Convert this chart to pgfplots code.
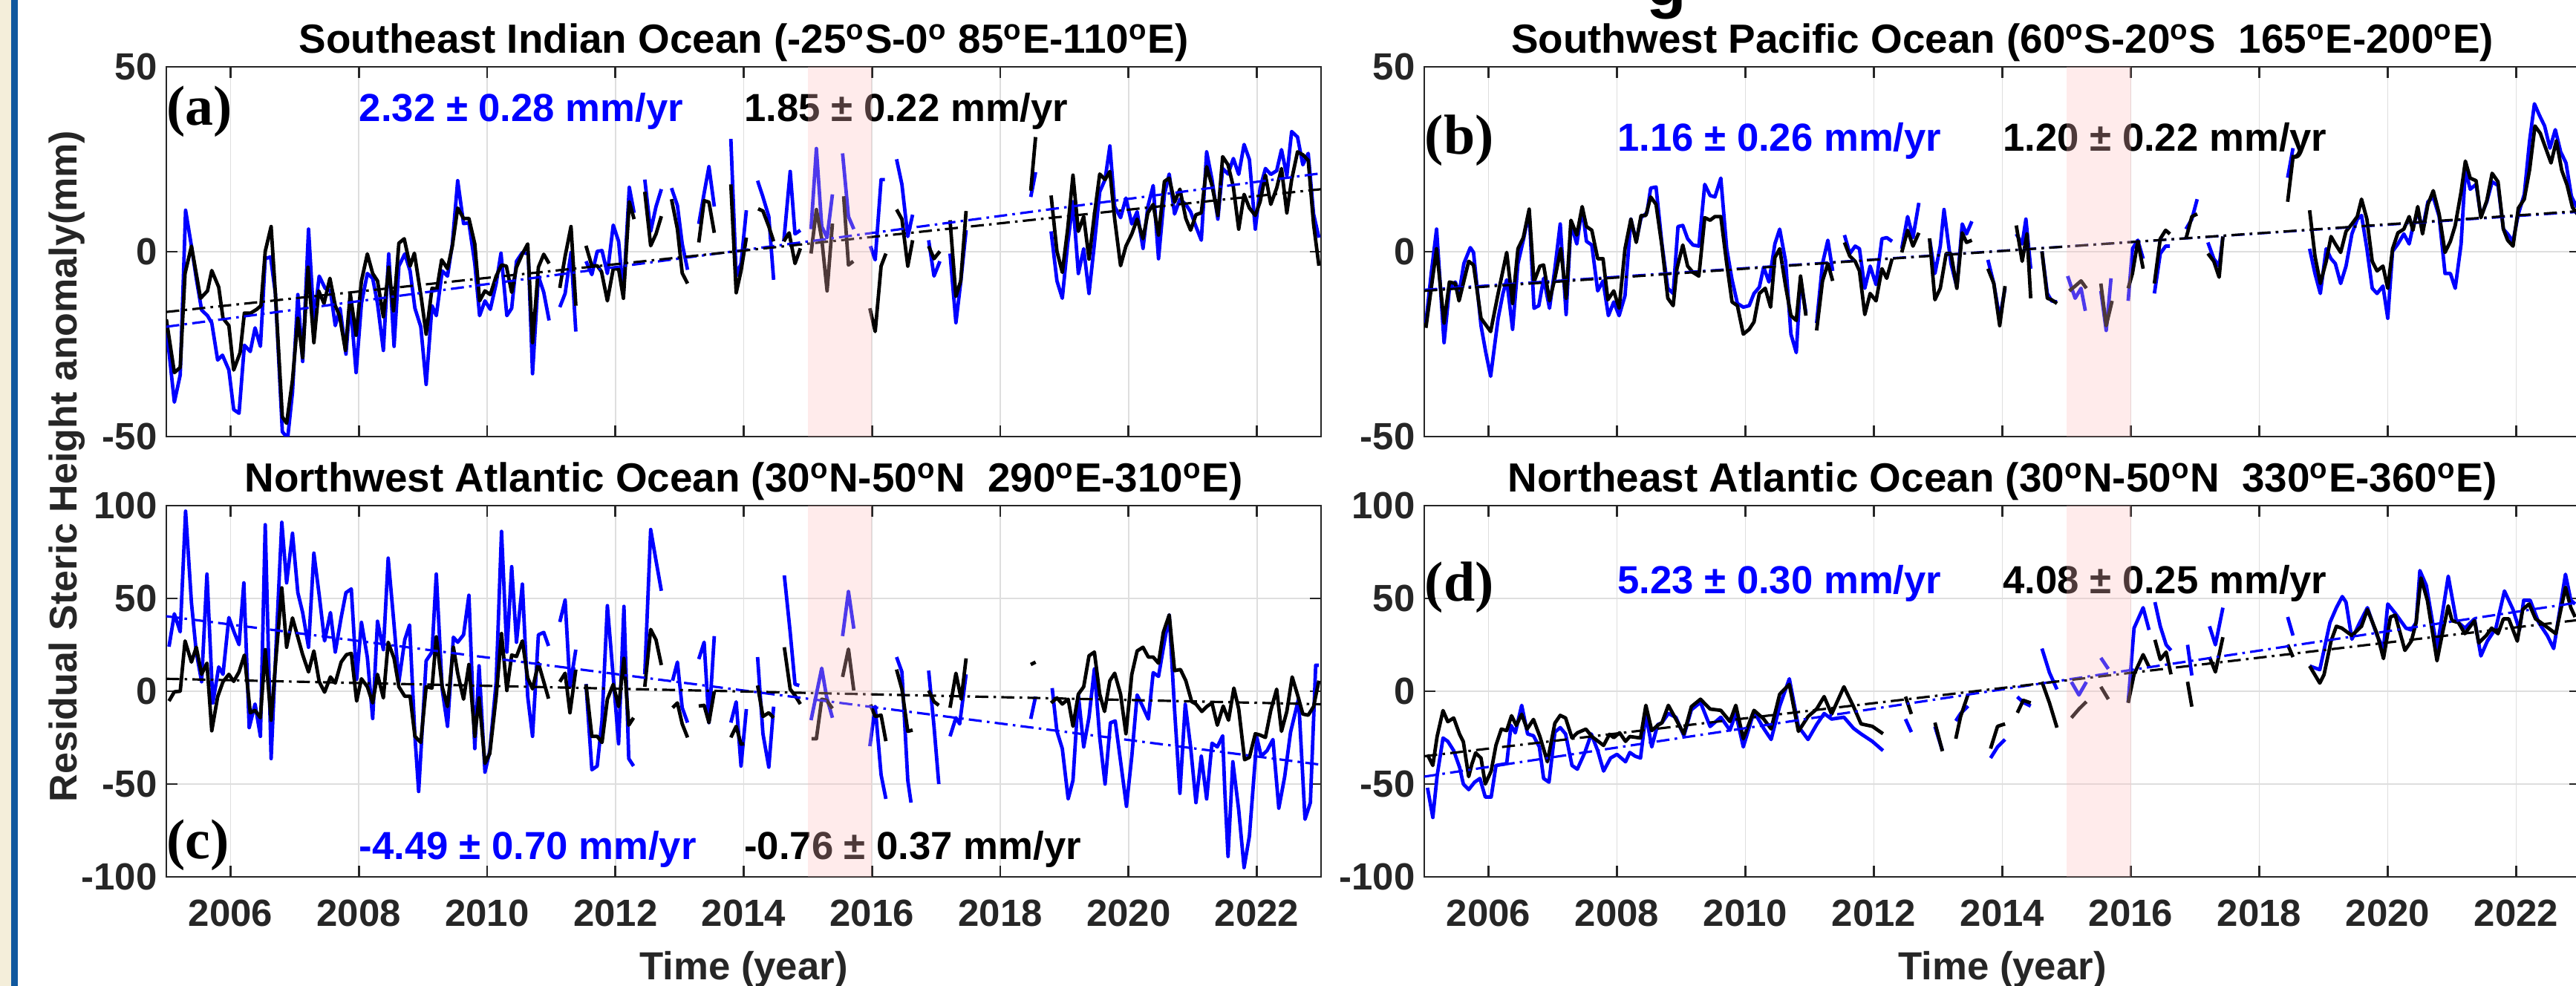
\documentclass[border=0pt]{standalone}
\usepackage{fontspec}
\setmainfont{Liberation Sans}
\newfontfamily\serifbold{Liberation Serif}
\usepackage{pgfplots}
\pgfplotsset{compat=1.18}
\definecolor{axgray}{RGB}{38,38,38}
\definecolor{gridgray}{RGB}{222,222,222}
\definecolor{mblue}{RGB}{0,0,255}
\definecolor{beige}{RGB}{244,238,218}
\definecolor{barblue}{RGB}{16,88,158}
\definecolor{bandpink}{RGB}{255,190,190}
\newcommand{\tf}{\fontsize{14.5}{16}\selectfont\bfseries}
\newcommand{\titlef}{\fontsize{15.6}{18}\selectfont\bfseries}
\newcommand{\annf}{\fontsize{15}{17}\selectfont\bfseries}
\newcommand{\labf}{\fontsize{21.6}{24}\selectfont\serifbold\bfseries}
\pgfplotsset{
 panel/.style={
  scale only axis, width=15.55cm,
  xmin=2005, xmax=2023,
  xtick={2006,2008,...,2022},
  xticklabels={2006,2008,2010,2012,2014,2016,2018,2020,2022},
  grid=major,
  major grid style={draw=gridgray, line width=0.5pt},
  tick align=inside,
  major tick length=0.15cm,
  axis line style={draw=axgray, line width=0.8pt},
  every tick/.style={draw=axgray, line width=0.8pt},
  tick label style={font=\tf, text=axgray},
  xticklabel style={yshift=-0.19cm},
  unbounded coords=jump,
  every axis title shift=0pt,
  title style={at={(0.5,1)}, anchor=base, yshift=0.18cm, font=\titlef, text=black},
 },
 toprow/.style={panel, height=4.98cm, ymin=-50, ymax=50, ytick={-50,0,50}, yticklabels={-50,0,50}, xticklabels={}},
 botrow/.style={panel, height=5.00cm, ymin=-100, ymax=100, ytick={-100,-50,0,50,100}, yticklabels={-100,-50,0,50,100}},
 bl/.style={mblue, line width=1.35pt, line join=round},
 kl/.style={black, line width=1.35pt, line join=round},
 tb/.style={mblue, line width=0.9pt, dash pattern=on 5pt off 2pt on 1pt off 2pt},
 tk/.style={black, line width=0.9pt, dash pattern=on 5pt off 2pt on 1pt off 2pt},
}
\begin{document}
\begin{tikzpicture}
\fill[beige] (0,0) rectangle (0.15,13.28);
\fill[barblue] (0.15,0) rectangle (0.24,13.28);

% ---------------- (a)
\begin{axis}[toprow, at={(2.24cm,7.40cm)}, anchor=south west,
 title={Southeast Indian Ocean (-25\textsuperscript{o}S-0\textsuperscript{o} 85\textsuperscript{o}E-110\textsuperscript{o}E)}]
\addplot[bl] table[x expr=2005+\thisrow{m}/12, y=v] {
m v
0 -20.3
1.5 -40.7
2.6 -33.3
3.6 11.2
4.7 1.5
5.6 -7.2
6.6 -15.8
7.7 -17.3
8.5 -19.3
9.6 -29.3
10.5 -28
11.7 -32
12.6 -42.7
13.6 -43.7
14.6 -25.3
15.7 -27
16.6 -20.6
17.6 -25.6
18.5 -1.9
19.5 -1.4
20.4 -11.3
21.7 -48.7
22.7 -50.4
23.6 -38
24.6 -11.6
25.5 -29.7
26.6 6.1
27.6 -18.6
28.6 -6.6
29.7 -9.9
30.7 -10.6
31.6 -20
32.5 -15.3
33.6 -27.7
34.4 -13.3
35.5 -32.7
36.5 -14
37.6 -5.9
38.6 -7.2
39.5 -14
40.6 -26.7
41.6 -0.6
42.6 -25.6
43.5 -3.9
44.6 -0.6
45.6 -5.2
46.5 -15.3
47.6 -20.3
48.6 -35.9
49.7 -14.6
50.5 -17.3
51.6 -5.2
52.6 -6.6
53.5 2.1
54.5 19.2
55.6 7.6
56.6 7.8
57.7 -3.2
58.6 -17.3
59.6 -13.3
60.6 -15.6
61.7 -8.6
62.6 -0.4
63.7 -17.3
64.6 -15.3
65.5 -2.6
66.6 -0.2
67.7 -0.6
68.5 -33
69.6 -6.6
70.6 -11
71.6 -18.6
72.6 nan
73.6 -15
74.6 -11.3
75.7 -0.2
76.6 -21.6
77.5 nan
78.5 -2.6
79.6 -6.2
80.6 0.1
81.5 0.3
82.5 -5.9
83.6 7.2
84.6 2.8
85.5 -11.3
86.6 17.4
87.5 10.5
88.5 nan
89.5 19.5
90.6 5.5
91.6 12.2
92.6 16.9
93.5 nan
94.5 17.2
95.6 12.5
96.5 2.1
97.5 -4.9
98.5 nan
99.6 7.5
100.6 15.8
101.5 23
102.5 12.2
104 nan
105.6 30.5
106.6 -6.6
107.5 -3.2
108.5 11.2
109.5 nan
110.6 19.2
111.6 14.8
112.7 9.5
113.6 -7.6
114.5 nan
115.5 2.8
116.7 21.7
117.6 4.8
118.6 5.8
119.6 nan
120.6 6.1
121.6 27.9
122.6 6.8
123.6 3.8
124.6 15.5
125.6 nan
126.5 26.6
127.6 9.5
128.6 6.1
130 nan
131.7 1.5
132.6 -2.2
133.7 19.5
134.4 19.5
135.5 nan
136.6 25
137.6 18.2
138.7 4.1
139.6 10
141 nan
142.6 3.1
143.6 -6.6
144.7 -2.6
145.6 nan
146.6 -0.5
147.7 -19.2
148.6 -8.2
149.6 5.8
155 nan
161.7 14.8
162.6 21.5
164 nan
165.5 5.5
166.6 -7.9
167.6 -12.6
168.6 2.1
169.6 13.5
170.6 -5.9
171.6 0.8
172.6 -11.3
173.6 2.1
174.6 16.2
175.6 19.5
176.5 28.6
177.4 12.2
178.5 9.2
179.5 14.5
180.6 7.5
181.6 10.8
182.7 0.9
183.6 12.2
184.6 17.9
185.6 -1.9
186.7 15.5
187.6 21
188.6 10.2
189.6 14.2
190.7 12.8
191.6 10.8
192.6 6.8
193.6 3.1
194.6 27
195.6 19.5
196.7 8.8
197.6 22.5
198.6 21
199.6 25.2
200.6 20.9
201.6 29
202.6 24.9
203.7 6.1
204.6 17.2
205.6 22.5
206.6 20.9
207.7 21.9
208.6 27.6
209.6 20.5
210.5 32.5
211.6 31
212.6 23.5
213.6 26.6
214.6 10.2
215.6 3.8
};
\addplot[kl] table[x expr=2005+\thisrow{m}/12, y=v] {
m v
0 -18.3
1.5 -32.7
2.6 -31.3
3.5 -5.9
4.7 1.5
6.4 -12.6
7.7 -10.6
8.5 -5.1
9.8 -9.6
10.6 -18
11.7 -20
12.6 -32
13.8 -27.3
14.6 -16.6
15.8 -16.6
16.9 -15.6
17.7 -14.6
18.5 0.1
19.6 6.8
20.4 -11.3
21.7 -44.7
22.5 -46.4
23.6 -34.7
24.6 -18
25.5 -28.7
26.5 -4.2
27.6 -24.6
28.5 -10.6
29.5 -14
30.6 -7.2
31.6 -14.6
32.4 -17.3
33.5 -26.7
34.4 -11.3
35.5 -22.6
36.5 -7.9
37.6 -0.6
38.6 -5.9
39.5 -7.9
40.6 -17.6
41.6 -4.2
42.5 -16
43.5 2.3
44.5 3.5
45.6 -3.9
46.4 -0.4
47.7 -12.6
48.6 -22.3
49.7 -9.9
50.6 -10.1
51.5 -2.2
52.6 -4.6
53.5 1.5
54.5 11.8
55.6 9
56.6 9
57.7 2.1
58.6 -13.3
59.6 -10.6
60.6 -11.6
61.7 -6.6
62.7 -3.6
63.6 -3.9
64.6 -11
65.5 -4.2
66.6 -0.6
67.6 2.1
68.5 -24.6
69.6 -4.2
70.6 -0.7
71.6 -3.2
72.6 nan
73.6 -9.8
74.6 -1.2
75.7 6.8
76.6 -14.6
77.5 nan
78.5 1.6
79.6 -3.9
80.6 -3.8
81.4 -5.4
82.5 -13.3
83.6 -4.6
84.6 -4.7
85.5 -12.6
86.6 13.5
87.5 8.8
88.5 nan
89.5 16.2
90.6 1.6
91.6 4.8
92.6 9.6
93.5 nan
94.5 14.2
95.6 6.1
96.5 -5.8
97.5 -8.6
98.5 nan
99.6 2.5
100.6 13.8
101.5 13.4
102.5 5.1
104 nan
105.6 18.2
106.6 -11.1
107.5 -5.2
108.5 3.8
109.5 nan
110.7 11.6
111.6 11
112.7 6.8
113.6 2.8
114.5 nan
115.5 2.8
116.5 5.1
117.6 -3.2
118.6 0.9
119.6 nan
120.6 -0.5
121.6 11.4
122.6 3.5
123.6 -10.6
124.6 7.6
125.6 nan
126.7 15
127.6 -3.6
128.5 -2.6
130 nan
131.6 -15.3
132.6 -21.6
133.7 -3.9
134.6 -0.5
135.5 nan
136.6 11.4
137.6 8.8
138.7 -3.9
139.6 3.1
141 nan
142.6 1.5
143.6 -1.9
144.7 0.1
145.6 nan
146.6 8.5
147.7 -12.1
148.6 -7.9
149.6 11
155 nan
161.7 16.5
162.6 31
164 nan
165.5 15.2
166.6 0.1
167.6 -5.6
168.6 6.1
169.6 20.7
170.6 5.5
171.6 9.5
172.6 -2
173.6 10
174.6 21
175.6 19.5
176.5 21.7
177.4 8.8
178.5 -3.8
179.5 1.5
180.6 4.8
181.6 8.8
182.7 3.5
183.6 10.5
184.6 12.8
185.6 4.5
186.7 19
187.6 19.9
188.6 13.4
189.6 16.9
190.7 9
191.6 5.8
192.6 10
193.6 10.5
194.6 23
195.6 17.9
196.7 9.8
197.6 25.7
198.6 23.5
199.6 17.5
200.6 6.1
201.6 15.5
202.6 11.8
203.7 9.8
204.6 13.5
205.6 20.7
206.6 12.8
207.7 17.2
208.6 22.5
209.6 10.5
210.5 19.5
211.6 27
212.6 26.2
213.6 24.7
214.6 7.5
215.6 -3.8
};
\addplot[tb] coordinates {(2005,-20.3) (2023,21.2)};
\addplot[tk] coordinates {(2005,-16.3) (2023,16.9)};
\node[anchor=west, inner sep=0pt, font=\labf] at (axis cs:2005,38) {(a)};
\node[anchor=west, inner sep=0pt, font=\annf, text=mblue] at (axis cs:2008,38) {2.32 ± 0.28 mm/yr};
\node[anchor=west, inner sep=0pt, font=\annf, text=black] at (axis cs:2014,38) {1.85 ± 0.22 mm/yr};
\addplot[draw=none, fill=bandpink, fill opacity=0.3] coordinates {(2015,-50) (2016,-50) (2016,50) (2015,50)} -- cycle;
\end{axis}

% ---------------- (b)
\begin{axis}[toprow, at={(19.18cm,7.40cm)}, anchor=south west, width=15.57cm,
 title={Southwest Pacific Ocean (60\textsuperscript{o}S-20\textsuperscript{o}S\ \ 165\textsuperscript{o}E-200\textsuperscript{o}E)}]
\addplot[bl] table[x expr=2005+\thisrow{m}/12, y=v] {
m v
0.3 -19.3
1.3 -5.9
2.3 6.1
3.7 -24.6
4.7 -9.9
5.8 -8.2
6.5 -11.3
7.4 -3.2
8.6 1.1
9.2 -0.2
10.6 -20
11.5 -27.3
12.4 -33.7
13.8 -18
14.7 -11.3
15.4 -7.6
16.5 -21
17.5 -3.2
18.5 3.1
19.6 10.8
20.5 -15.3
21.4 -14.6
22.3 -7.2
23.4 -15.3
24.4 -4.6
25.4 7.5
26.5 -17
27.4 7.5
28.5 2.1
29.5 11.8
30.3 2.8
31.3 1.8
32.4 -10.6
33.4 -7.9
34.4 -17.3
35.4 -13.6
36.4 -17.3
37.5 -11.9
38.6 8.8
39.6 2.8
40.5 9.2
41.6 10.5
42.3 17.2
43.3 17.5
44.4 2.1
45.5 -9.9
46.5 -11.3
47.4 6.8
48.3 7.1
49.2 3.5
50.2 1.8
51.3 1.5
52.4 18.2
53.4 15.2
54.3 14.8
55.4 19.9
56.5 0.8
57.5 -7.6
58.5 -14
59.6 -15
60.7 -14.6
61.6 -11.3
62.6 -9.6
63.4 -4.2
64.4 -8.2
65.5 2.1
66.4 6.1
67.5 -2.6
68.5 -22.3
69.5 -27.3
70.3 -7.2
71.3 -16.6
72.3 nan
73.3 -19.3
74.4 -3.2
75.4 3.1
76.3 -5.2
77.4 nan
78.5 4.5
79.5 -0.5
80.5 1.5
81.3 0.8
82.3 -9.9
83.3 -3.9
84.4 -8.9
85.5 3.5
86.4 3.8
87.4 2.8
88.3 nan
89.2 0.8
90.3 9.5
91.3 3.8
92.4 13.2
93.4 nan
94.4 3.5
95.4 -5.9
96.4 1.5
97.1 11.4
98.4 -3.2
99.5 -9.6
100.5 7.5
101.3 4.8
102.3 8.2
104 nan
105.3 -2.2
106.4 -8.6
107.5 -18
108.5 -9.9
109.5 nan
110.6 4.8
111.7 2.1
112.4 8.8
113.3 -4.6
114.3 nan
115.4 0.1
116.4 -11.3
117.2 -13.3
118.2 -13.6
119.3 nan
120.2 -6.6
121.6 -12.6
122.7 -9.9
123.5 -16
125 nan
126.4 -10.6
127.4 -21.3
128.3 -7.2
130 nan
131.5 -13.3
132.3 0.8
133.3 3.1
134.3 -1.9
135.3 nan
136.4 -11.3
137.5 -0.5
138.5 1.5
139.3 1.5
141 nan
142.3 6.1
143.4 8.8
144.4 14.2
145.4 nan
146.4 2.5
147.5 -1.9
148.5 -3.9
149.2 4.1
155 nan
161.3 20
162.3 28
164 nan
165.4 0.8
166.4 -5.9
167.4 -11.3
168.5 0.8
169.4 -1.9
170.2 -3.2
171.2 -8.6
172.2 -3.9
173.3 4.8
174.3 8.8
175.1 9.8
176.1 0.8
177.1 -9.9
178.0 -11.3
179.1 -9.3
180.0 -18
180.9 0.1
181.9 2.1
183.0 4.8
184.0 2.1
184.7 6.8
185.6 10.8
186.5 6.1
187.5 13.5
188.5 14.8
189.6 9.5
190.7 -5.9
191.7 -5.9
192.6 -9.9
193.7 2.1
194.5 22.2
195.4 16.9
196.5 18.2
197.4 9.5
198.5 13.5
199.5 18.9
200.6 17.9
201.6 6.1
202.4 4.8
203.4 2.8
204.4 10.2
205.5 15.5
206.5 30
207.4 40
208.3 37
209.3 34
210.3 28
211.3 33
212.3 27
213.3 24
214.3 15
215.3 12
};
\addplot[kl] table[x expr=2005+\thisrow{m}/12, y=v] {
m v
0.3 -20.6
2.3 0.8
3.7 -19.3
4.7 -8.2
5.8 -8.6
6.5 -13.3
8.3 -2.6
9.2 -3.6
10.6 -18
12.4 -21.6
13.8 -11.3
15.4 -0.2
16.5 -14
17.5 0.8
18.5 3.8
19.6 11.5
20.5 -8.2
21.6 -3.9
22.3 -3.6
23.4 -13.3
24.4 -7.2
25.5 0.8
26.5 -12.6
27.4 8.5
28.5 4.5
29.5 12.2
30.3 6.8
31.3 5.8
32.4 -1.9
33.4 -1.9
34.3 -13
35.4 -10.6
36.4 -15.3
37.5 0.8
38.6 8.8
39.6 2.5
40.5 9.8
41.4 9.8
42.3 14.8
43.3 12.8
44.4 1.5
45.5 -12.6
46.5 -14.6
47.2 -4.6
48.3 1.8
49.2 -3.9
50.2 -5.6
51.3 -6.6
52.4 9.2
53.4 8.5
54.3 9.5
55.4 9.5
56.5 -3.2
57.5 -13.6
58.5 -14.6
59.6 -22.3
60.7 -21
61.6 -19
62.6 -11.3
63.7 -9.9
64.7 -15
65.5 -1.6
66.4 0.8
67.5 -9.3
68.5 -17.3
69.5 -18.6
70.3 -6.6
71.3 -17.3
72.3 nan
73.3 -21.3
74.4 -7.9
75.4 -3.2
76.3 -7.9
77.4 nan
78.5 2.5
79.5 -1.2
80.5 -2.6
81.3 -5.2
82.3 -17
83.3 -11.3
84.4 -13.3
85.5 -4.6
86.4 -7.2
87.4 -1.9
88.3 nan
89.2 -0.2
90.3 5.8
91.3 1.5
92.4 5.1
93.4 nan
94.4 3.6
95.4 -13
96.4 -9.9
97.5 -0.5
98.4 -0.5
99.5 -9.9
100.5 5.1
101.3 2.5
102.3 3.1
104 nan
105.3 -4.6
106.4 -8.6
107.5 -20
108.5 -9.3
109.5 nan
110.6 7.1
111.7 -2.6
112.6 4.8
113.3 -12.6
114.3 nan
115.4 0.1
116.4 -12.6
117.2 -13
118.2 -14
119.3 nan
120.5 -10.6
121.6 -9.3
122.7 -7.9
123.7 -9.9
125 nan
126.4 -8.6
127.4 -20
128.5 -13.3
130 nan
131.5 -9.9
132.3 -5.9
133.3 2.8
134.3 -4.6
135.3 nan
136.4 -8.6
137.5 3.5
138.5 5.8
139.3 4.8
141 nan
142.3 3.5
143.4 9.5
144.4 10.2
145.4 nan
146.4 -0.5
147.5 -2.6
148.5 -6.9
149.2 4.1
155 nan
161.3 13.5
162.3 25.6
164 nan
165.4 11.2
166.4 -1.2
167.4 -8.6
168.5 -2.6
169.4 4.1
170.2 2.1
171.2 -0.2
172.2 5.5
173.3 7.5
174.3 9.5
175.1 14.2
176.1 8.8
177.1 -2.6
178.0 -5.2
179.1 -3.9
180.0 -9.9
180.9 0.8
181.9 5.1
183.0 6.1
184.0 9.5
184.7 5.8
185.6 12.2
186.5 4.8
187.5 12.8
188.5 16.5
189.6 10.2
190.7 -0.2
191.7 2.8
192.6 7.1
193.7 16.2
194.5 24.5
195.4 19.9
196.5 19.2
197.4 9.2
198.5 13.8
199.5 21.2
200.6 18.9
201.6 6.1
202.4 3.1
203.4 1.5
204.4 11.8
205.5 14.2
206.5 22.2
207.5 34
208.5 32
209.5 28
210.5 24
211.5 30
212.5 22
213.5 18
214.5 12
215.5 10
};
\addplot[tb] coordinates {(2005,-10.3) (2023,10.8)};
\addplot[tk] coordinates {(2005,-10.6) (2023,11.0)};
\node[anchor=west, inner sep=0pt, font=\labf] at (axis cs:2005,30) {(b)};
\node[anchor=west, inner sep=0pt, font=\annf, text=mblue] at (axis cs:2008,30) {1.16 ± 0.26 mm/yr};
\node[anchor=west, inner sep=0pt, font=\annf, text=black] at (axis cs:2014,30) {1.20 ± 0.22 mm/yr};
\addplot[draw=none, fill=bandpink, fill opacity=0.3] coordinates {(2015,-50) (2016,-50) (2016,50) (2015,50)} -- cycle;
\end{axis}

% ---------------- (c)
\begin{axis}[botrow, at={(2.24cm,1.47cm)}, anchor=south west,
 title={Northwest Atlantic Ocean (30\textsuperscript{o}N-50\textsuperscript{o}N\ \ 290\textsuperscript{o}E-310\textsuperscript{o}E)}]
\addplot[bl] table[x expr=2005+\thisrow{m}/12, y=v] {
m v
0.5 24
1.5 41.7
2.6 32
3.6 97
4.7 47.7
5.6 21.1
6.6 5.1
7.6 63.1
8.7 -6.3
9.8 13.1
10.6 9.1
11.7 39.7
12.6 32.4
13.6 25.1
14.5 58.4
15.5 -19.6
16.6 -6.9
17.6 -24.3
18.5 89.7
19.6 -36.3
20.6 29.1
21.6 91
22.5 58.4
23.6 85.1
24.6 53.1
25.5 42.4
26.6 23.7
27.6 74.4
28.6 51.7
29.6 27.1
30.7 42.4
31.6 21.1
32.7 39.7
33.6 53.1
34.6 55.1
35.6 6.4
36.5 37.1
37.6 18.4
38.6 -14.7
39.5 37.7
40.6 22.4
41.5 71.7
42.6 35.7
43.5 5.1
44.6 27.7
45.5 35.7
46.5 -24.3
47.2 -54
48.6 16.4
49.7 21.1
50.5 63.1
51.6 1.1
52.6 -18.9
53.7 29.1
54.5 26.4
55.6 30.4
56.6 51.7
57.7 -30.9
58.5 13.7
59.6 -43.6
60.5 -32.3
61.7 5.1
62.7 86.1
63.7 21.1
64.6 67.1
65.5 26.4
66.6 57.7
67.6 -2.9
68.5 -24.3
69.6 30.4
70.6 31.7
71.5 24.4
72.6 nan
73.6 37.3
74.6 49.1
75.5 2.4
76.6 22.4
77.5 nan
78.5 3.9
79.6 -42.3
80.6 -40.3
81.5 -15.6
82.5 46.1
83.6 7.7
84.6 -28.3
85.6 45.7
86.5 -36.3
87.4 -40.3
88.5 nan
89.5 9.1
90.6 87.1
91.6 70.4
92.6 54.1
93.6 nan
94.7 5.7
95.6 15.7
96.5 -8.9
97.5 -16.9
98.5 nan
99.6 17.3
100.6 26.4
101.5 -16.9
102.5 29.7
104 nan
105.6 -16.9
106.6 -5.7
107.5 -40.3
108.5 -9.6
109.5 nan
110.6 18.4
111.6 -22.9
112.7 -40.9
113.6 -8.3
114.6 nan
115.6 62.4
116.7 31.7
117.6 3.7
118.4 3.1
119.6 nan
120.6 -15.6
121.6 -1.6
122.6 12.4
123.5 -2.9
124.6 -14.3
125.6 nan
126.5 29.7
127.6 53.7
128.6 33.7
130 nan
131.6 -29.6
132.6 -8.3
133.7 -45
134.6 -58
135.5 nan
136.6 18.4
137.6 10.4
138.7 -48
139.3 -60
141 nan
142.6 11.1
143.6 -18.9
144.5 -50
145.5 nan
146.6 -24.3
147.7 -14.3
148.4 -17.6
149.6 9.1
155 nan
161.7 -14.9
162.6 -2.9
164 nan
165.7 1.7
166.6 -21.6
167.6 -30.9
168.7 -58
169.6 -48
170.6 -2
171.6 -30
172.6 -14
173.6 12
174.6 -25
175.6 -50
176.6 -17
177.5 -16
178.6 -40
179.6 -62
180.6 -35
181.6 -2
182.6 -8
183.7 -15
184.6 10
185.6 8
186.6 25
187.6 41
188.6 -10
189.6 -55
190.6 -7
191.6 -30
192.6 -60
193.6 -35
194.6 -58
195.6 -28
196.6 -30
197.6 -24
198.0 -54
198.6 -89
199.5 -38
200.6 -64
201.6 -95
202.6 -78
204.0 -25
204.8 -35
205.9 -32
207.0 -26
208.1 -63
209.2 -46
210.3 -22
211.8 -4
213.0 -69
214.0 -60
215.0 14
215.6 14
};
\addplot[kl] table[x expr=2005+\thisrow{m}/12, y=v] {
m v
0.5 -5.3
1.5 -0.3
2.6 0
3.5 27.1
4.7 15.7
5.6 23.7
6.6 9.1
7.6 15.1
8.5 -21.3
9.6 -3
10.6 5.1
11.7 9.1
12.6 5.3
13.6 10.4
14.6 19.5
15.7 -11.6
16.6 -10.3
17.6 -14.3
18.5 22.4
19.6 -15.6
20.6 21.1
21.6 55.7
22.5 23.7
23.6 39.5
24.6 29.1
25.5 19.7
26.6 10.4
27.6 21.7
28.6 5.1
29.6 -0.5
30.7 7.7
31.6 4.4
32.7 15.7
33.7 19.7
34.6 20.4
35.6 -5.3
36.5 6.7
37.6 2.4
38.6 -6.3
39.5 9.1
40.6 -3.6
41.5 26.4
42.6 17.7
43.5 2.4
44.6 -2.7
45.6 -2.7
46.5 -24.3
47.6 -27.6
48.6 2.4
49.7 1.7
50.5 29.3
51.6 2.4
52.6 -8.3
53.7 23.7
54.5 9.7
55.6 -4.3
56.6 14.4
57.7 -24.3
58.5 -3.6
59.6 -38.9
60.5 -33.6
61.7 -2.9
62.7 31.1
63.7 0.4
64.6 19.5
65.5 18.7
66.6 27.1
67.6 7.1
68.5 1.3
69.6 15.1
70.6 5.1
71.5 -4
72.6 nan
73.6 5.1
74.6 9.7
75.5 -11.6
76.6 11.7
77.5 nan
78.5 3.7
79.6 -24.3
80.6 -24.3
81.5 -27.6
82.5 -4.3
83.6 3.7
84.6 -8.3
85.6 17.7
86.5 -18.3
87.4 -14.3
88.5 nan
89.5 2.4
90.6 33.3
91.6 27.7
92.6 14.1
93.6 nan
94.7 -8.9
95.6 -6.3
96.5 -17.6
97.5 -24.9
98.5 nan
99.6 -8
100.6 -7.6
101.5 -16.9
102.5 0
104 nan
105.6 -24.9
106.6 -18.9
107.5 -28.5
108.1 -28.3
109.5 nan
110.6 3.1
111.6 -13.6
112.7 -11.6
113.6 -14.3
114.6 nan
115.6 23.7
116.7 1.1
117.6 -2.3
118.6 -6.9
119.6 nan
120.7 -25.6
121.6 -25.6
122.6 -4.3
123.5 -4.9
124.6 -9.3
125.6 nan
126.5 7.7
127.6 22.7
128.6 0.4
130 nan
131.7 -7.2
132.6 -13.6
133.7 -12.9
134.6 -26.9
135.5 nan
136.6 11.7
137.6 1.1
138.7 -21.6
139.6 -20.9
141 nan
142.6 0.4
143.6 -5.6
144.5 -7.6
145.5 nan
146.6 -8.9
147.7 9.7
148.7 -4.3
149.6 17.7
155 nan
161.7 14.4
162.6 15.7
164 nan
165.5 -6.3
166.6 -3.6
167.6 -6.9
168.7 -4.3
169.6 -18.9
170.6 -1.6
171.6 2.4
172.6 19.1
173.6 21.1
174.6 -1.6
175.5 -10.9
176.5 5.7
177.4 9.7
178.5 -1.6
179.5 -22.9
180.6 9.1
181.6 21.7
182.7 23.7
183.7 18.4
184.6 18.4
185.6 15.1
186.5 31.7
187.6 41.1
188.6 11.1
189.7 11.7
190.7 5.7
191.8 -5.6
192.6 -6.9
193.7 -10.9
194.6 -8.3
195.6 -6.3
196.6 -18.3
197.7 -8
198.7 -15.6
199.7 1.7
200.6 -9.6
201.7 -36.9
202.6 -35.6
203.7 -22.9
204.6 -23.6
205.6 -24.9
206.6 -10.3
207.7 1.1
208.6 -21.6
209.6 -10.9
210.6 7.7
211.7 -2.9
212.6 -12.3
213.6 -12.9
214.6 -8.3
215.6 5.7
};
\addplot[tb] coordinates {(2005,40.4) (2023,-39.6)};
\addplot[tk] coordinates {(2005,6.7) (2023,-7.0)};
\node[anchor=west, inner sep=0pt, font=\labf] at (axis cs:2005,-83) {(c)};
\node[anchor=west, inner sep=0pt, font=\annf, text=mblue] at (axis cs:2008,-85) {-4.49 ± 0.70 mm/yr};
\node[anchor=west, inner sep=0pt, font=\annf, text=black] at (axis cs:2014,-85) {-0.76 ± 0.37 mm/yr};
\addplot[draw=none, fill=bandpink, fill opacity=0.3] coordinates {(2015,-100) (2016,-100) (2016,100) (2015,100)} -- cycle;
\end{axis}

% ---------------- (d)
\begin{axis}[botrow, at={(19.18cm,1.47cm)}, anchor=south west, width=15.57cm,
 title={Northeast Atlantic Ocean (30\textsuperscript{o}N-50\textsuperscript{o}N\ \ 330\textsuperscript{o}E-360\textsuperscript{o}E)}]
\addplot[bl] table[x expr=2005+\thisrow{m}/12, y=v] {
m v
0.6 -52
1.6 -68
2.4 -45.6
3.5 -25.2
4.4 -27
5.5 -32
6.6 -41
7.3 -50
8.3 -53
9.4 -49
10.4 -47
11.4 -57
12.5 -57
13.4 -40
15.4 -39
16.2 -18.4
17.0 -22.4
18.2 -7.6
19.3 -23
20.4 -24
21.5 -30
22.3 -47
23.3 -49
24.4 -22
25.4 -19.6
26.4 -23
27.6 -40
28.6 -42
30 -33
31.2 -23
32.4 -32
33.5 -43
34.8 -36
36 -34
37.6 -38
38.4 -33
39.4 -35
40.4 -36
41.4 -12.4
42.5 -30
43.6 -18
44.4 -17
45.6 -12
47 -14
48.5 -24
49.9 -10
51.6 -6
53.4 -19
55.4 -14
57.1 -21
58.2 -12
59.6 -30
61.6 -11
63.4 -20
64.8 -26
66.4 -8
68.2 6.7
69.9 -19
71.7 -26
73.3 -18
74.7 -12
76.1 -15
78.4 -14
80.2 -20
81.6 -23
83.7 -27
85.7 -32
87.5 nan
89.9 -15
91.0 -22
93 nan
95.4 -19
96.8 -32
98 nan
99.3 -16
100.2 -12
101.6 -8
104 nan
105.8 -36
107.1 -30
108.5 -26
109.5 nan
110.8 -3
111.9 -6
113.3 -8
114.4 nan
115.4 23
116.8 10
118.2 1
119.5 nan
120.9 5
122.3 -2
123.7 5
125 nan
126.4 18
127.8 12
130 nan
131.5 -6
132.6 34
134.3 45
135.4 33
135.9 nan
136.5 48
137.5 35
138.6 25
139.5 22
141 nan
142.6 25
143.4 8.5
145 nan
146.7 35
147.8 25
149.2 45
155 nan
161.3 40
162.3 30
164 nan
165.4 13.6
167.3 11.6
169.2 37
170.4 45
171.5 51
172.2 48
173.3 28
174.6 36
176.2 45
178 30
179.2 23
180 47
181.4 42
183.4 34
184.4 33
185.3 37
186 65
187.2 57
189.2 23
191.3 62
192.8 38
194.4 34
196.2 39
197.4 19
198.6 27
200.2 34
201.8 54
203.4 44
204.6 33
205.4 49
206.6 49
208.2 37
209.8 30
211 23
213.2 63
214.2 49
215 47
};
\addplot[kl] table[x expr=2005+\thisrow{m}/12, y=v] {
m v
0.6 -34.2
1.6 -40
2.4 -24.4
3.5 -10.4
4.4 -16.4
5.5 -14.4
6.6 -23.2
7.3 -27.2
8.3 -46
8.9 -39.2
9.6 -33.2
10.6 -36
11.4 -50
12.5 -43
13.4 -29
14.4 -20.4
15.4 -21.2
16.3 -13.2
17.2 -18.4
18.2 -12.4
19.2 -20.4
20.4 -15.2
21.6 -24.4
23.0 -38
24.4 -17.2
25.4 -13
26.4 -14.4
27.6 -25.2
28.6 -22.4
30.2 -20.4
31.3 -24.4
33.5 -29.2
34.6 -23.2
35.4 -25
36.5 -22.4
37.6 -27
38.4 -24.4
40.4 -25.2
41.4 -7.6
42.5 -21.2
43.6 -18.4
44.4 -17
45.6 -7.6
47 -15
48.5 -23
49.9 -8.3
51.6 -4.3
53.4 -9.6
55.4 -10.3
57.1 -16.3
58.2 -7.6
59.6 -25.6
61.6 -10.3
63.4 -14.9
64.8 -20.3
66.4 -1.6
68.2 3.7
69.9 -21.6
71.7 -13.6
73.3 -9.6
74.7 -2.9
76.1 -12.3
78.4 2.4
80.2 -8.3
81.6 -17.6
83.7 -18.9
85.7 -22.9
87.5 nan
89.9 -2.9
91.0 -12.3
93 nan
95.4 -16.9
96.8 -32.3
98 nan
99.3 -25.6
100.2 -13.6
101.6 -1.6
104 nan
105.8 -30.9
107.1 -18.9
108.5 -17.6
109.5 nan
110.8 -11.6
111.9 -4.9
113.3 -6.3
114.4 nan
115.4 5.1
116.8 -6.3
118.2 -19.6
119.5 nan
120.9 -14.3
122.3 -9.6
123.7 -5.6
125 nan
126.4 2.4
127.8 -4.3
130 nan
131.5 -6.3
132.6 9.1
134.3 19.7
135.4 13.1
135.9 nan
136.5 27.7
137.5 17.1
138.6 21.1
139.5 9.1
141 nan
142.6 5.1
143.4 -8.3
145 nan
146.7 18.4
147.8 10.4
149.2 29.1
155 nan
161.3 25.1
162.3 18.4
164 nan
165.4 13.6
167.3 4.4
168.1 9
169.4 27
170.4 35
171.4 34
173.3 30
175.1 35
176.2 44
178 31
179.2 17.6
180.5 40
181.4 41
183.2 22
184.4 27
185.3 37
186.2 61
187.4 49
189.2 16.4
190.2 31
191.3 46
192 38
193.2 37
194.4 31
196.2 38
197 26
198.4 30
199.4 34
200.6 31
201.6 39
202.6 39
204.2 27
205.2 44
206.4 47
207.6 39
208.6 37
210 34
211.4 31
213.2 56
214.2 45
215 40
};
\addplot[tb] coordinates {(2005,-46) (2023,48)};
\addplot[tk] coordinates {(2005,-35) (2023,38.5)};
\node[anchor=west, inner sep=0pt, font=\labf] at (axis cs:2005,56) {(d)};
\node[anchor=west, inner sep=0pt, font=\annf, text=mblue] at (axis cs:2008,58) {5.23 ± 0.30 mm/yr};
\node[anchor=west, inner sep=0pt, font=\annf, text=black] at (axis cs:2014,58) {4.08 ± 0.25 mm/yr};
\addplot[draw=none, fill=bandpink, fill opacity=0.3] coordinates {(2015,-100) (2016,-100) (2016,100) (2015,100)} -- cycle;
\end{axis}

\node[rotate=90, anchor=base, font=\fontsize{14.8}{17}\selectfont\bfseries, text=axgray] at (1.03,7.00) {Residual Steric Height anomaly(mm)};
\node[anchor=base, font=\fontsize{15}{17}\selectfont\bfseries, text=axgray] at (10.015,0.08) {Time (year)};
\node[anchor=base, font=\fontsize{15}{17}\selectfont\bfseries, text=axgray] at (26.965,0.08) {Time (year)};
\node[anchor=base, inner sep=0pt, font=\fontsize{25}{28}\selectfont\bfseries] at (22.44,13.20) {g};
\pgfresetboundingbox
\path[use as bounding box] (0,0) rectangle (34.69,13.28);
\end{tikzpicture}
\end{document}
